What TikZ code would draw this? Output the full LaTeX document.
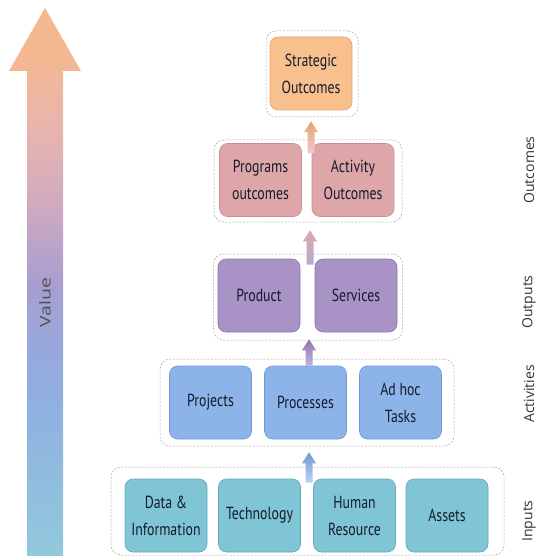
\documentclass[tikz,border=0pt]{standalone}
\usepackage{fontspec}
\usetikzlibrary{calc}
\newfontfamily\boxfont[FakeStretch=0.79]{PT Sans}
\newfontfamily\labelfont{Open Sans}
\newfontfamily\valuefont[FakeStretch=1.3]{Open Sans}

\definecolor{txt}{HTML}{141C2C}
\definecolor{sidetxt}{HTML}{333333}
\definecolor{stratfill}{HTML}{F8C08C}
\definecolor{stratline}{HTML}{E9A470}
\definecolor{pinkfill}{HTML}{DFA6A9}
\definecolor{pinkline}{HTML}{C98E92}
\definecolor{purpfill}{HTML}{A892C6}
\definecolor{purpline}{HTML}{8C76AE}
\definecolor{bluefill}{HTML}{8CB4E8}
\definecolor{blueline}{HTML}{6F98D2}
\definecolor{tealfill}{HTML}{7FC5D6}
\definecolor{tealline}{HTML}{5FA9BD}
\definecolor{valteal}{HTML}{92C9DC}
\definecolor{valblue}{HTML}{8FB0E0}
\definecolor{valbpurp}{HTML}{98A8DC}
\definecolor{valpurple}{HTML}{A89ED0}
\definecolor{valmauve}{HTML}{D0AABF}
\definecolor{valpink}{HTML}{E8B5AE}
\definecolor{valorange}{HTML}{F4B88E}

\pgfdeclareverticalshading{valueshade}{100bp}{color(0bp)=(valteal); color(25bp)=(valteal);
  color(39bp)=(valblue); color(44bp)=(valbpurp); color(50bp)=(valpurple);
  color(57bp)=(valmauve); color(64bp)=(valpink); color(71bp)=(valorange); color(100bp)=(valorange)}

% fat arrow from #1 (tail) up to #2 (tip)
\newcommand\fatarrow[4]{%
  \shade[top color=#3, bottom color=#4] ($(#1)+(-3.5,0)$) -- ($(#2)+(-3.5,11)$) -- ($(#2)+(-7,11)$)
    -- (#2) -- ($(#2)+(7,11)$) -- ($(#2)+(3.5,11)$) -- ($(#1)+(3.5,0)$) -- cycle;}

\tikzset{
  box/.style={rounded corners=8pt, line width=0.6pt, minimum width=82pt, minimum height=73pt,
    inner sep=0pt, align=center, text=txt, font=\boxfont\fontsize{17.5}{27}\selectfont},
  group/.style={draw=gray!70, dashed, dash pattern=on 2pt off 1.5pt, line width=0.5pt,
    rounded corners=10pt, inner sep=0pt},
  side/.style={rotate=90, text=sidetxt, font=\labelfont\fontsize{14}{16}\selectfont}
}

\begin{document}
\begin{tikzpicture}[x=1pt,y=-1pt]
\useasboundingbox (0,0) rectangle (536,556);

% Value arrow
\shade[shading=valueshade] (27,556) -- (27,71) -- (9,71) -- (45,8) -- (81,71) -- (63,71) -- (63,556) -- cycle;
\node[rotate=90, text=black!68, font=\valuefont\fontsize{15}{17}\selectfont] (value) at (45,303) {Value};

% Groups
\node[group, minimum width=92pt, minimum height=86pt] (row1) at (312,74) {};
\node[group, minimum width=188pt, minimum height=82pt] (row2) at (308,181) {};
\node[group, minimum width=189pt, minimum height=86pt] (row3) at (308,297) {};
\node[group, minimum width=294pt, minimum height=87pt] (row4) at (307,402.5) {};
\node[group, minimum width=393pt, minimum height=88pt] (row5) at (307.5,511) {};

% Boxes
\node[box, fill=stratfill, draw=stratline] (strat) at (311,73.5) {Strategic\\Outcomes};

\node[box, fill=pinkfill, draw=pinkline] (prog) at (260.5,180) {Programs\\outcomes};
\node[box, fill=pinkfill, draw=pinkline] (act) at (353,180) {Activity\\Outcomes};

\node[box, fill=purpfill, draw=purpline] (prod) at (259,295.5) {Product};
\node[box, fill=purpfill, draw=purpline] (serv) at (356,295.5) {Services};

\node[box, fill=bluefill, draw=blueline] (proj) at (210.5,402.5) {Projects};
\node[box, fill=bluefill, draw=blueline] (proc) at (305.5,402.5) {Processes};
\node[box, fill=bluefill, draw=blueline] (adhoc) at (400.5,402.5) {Ad hoc\\Tasks};

\node[box, fill=tealfill, draw=tealline] (data) at (166,515.5) {Data \&\\Information};
\node[box, fill=tealfill, draw=tealline] (tech) at (259.5,515.5) {Technology};
\node[box, fill=tealfill, draw=tealline] (human) at (354.5,515.5) {Human\\Resource};
\node[box, fill=tealfill, draw=tealline] (assets) at (447,515.5) {Assets};

% Arrows between rows
\coordinate (t1) at ($(row1.south)+(-1,4)$);
\coordinate (s1) at ($(t1 |- prog.north)+(0,10)$);
\coordinate (t2) at ($(row2.south)+(2,8)$);
\coordinate (s2) at ($(t2 |- prod.north)+(0,6)$);
\coordinate (t3) at ($(row3.south)+(1,-1)$);
\coordinate (s3) at ($(t3 |- proc.north)+(0,0)$);
\coordinate (t4) at ($(row4.south)+(2,6)$);
\coordinate (s4) at ($(t4 |- human.north)+(0,4)$);
\fatarrow{s1}{t1}{stratline}{pinkfill!60}
\fatarrow{s2}{t2}{pinkfill}{purpfill!80}
\fatarrow{s3}{t3}{purpline}{purpfill!70}
\fatarrow{s4}{t4}{blueline}{bluefill!60}

% Levels
\node[side] (lout) at (529,170) {Outcomes};
\node[side] (lput) at (529,302) {Outputs};
\node[side] (lact) at (529,394) {Activities};
\node[side] (linp) at (529,521) {Inputs};
\end{tikzpicture}
\end{document}
